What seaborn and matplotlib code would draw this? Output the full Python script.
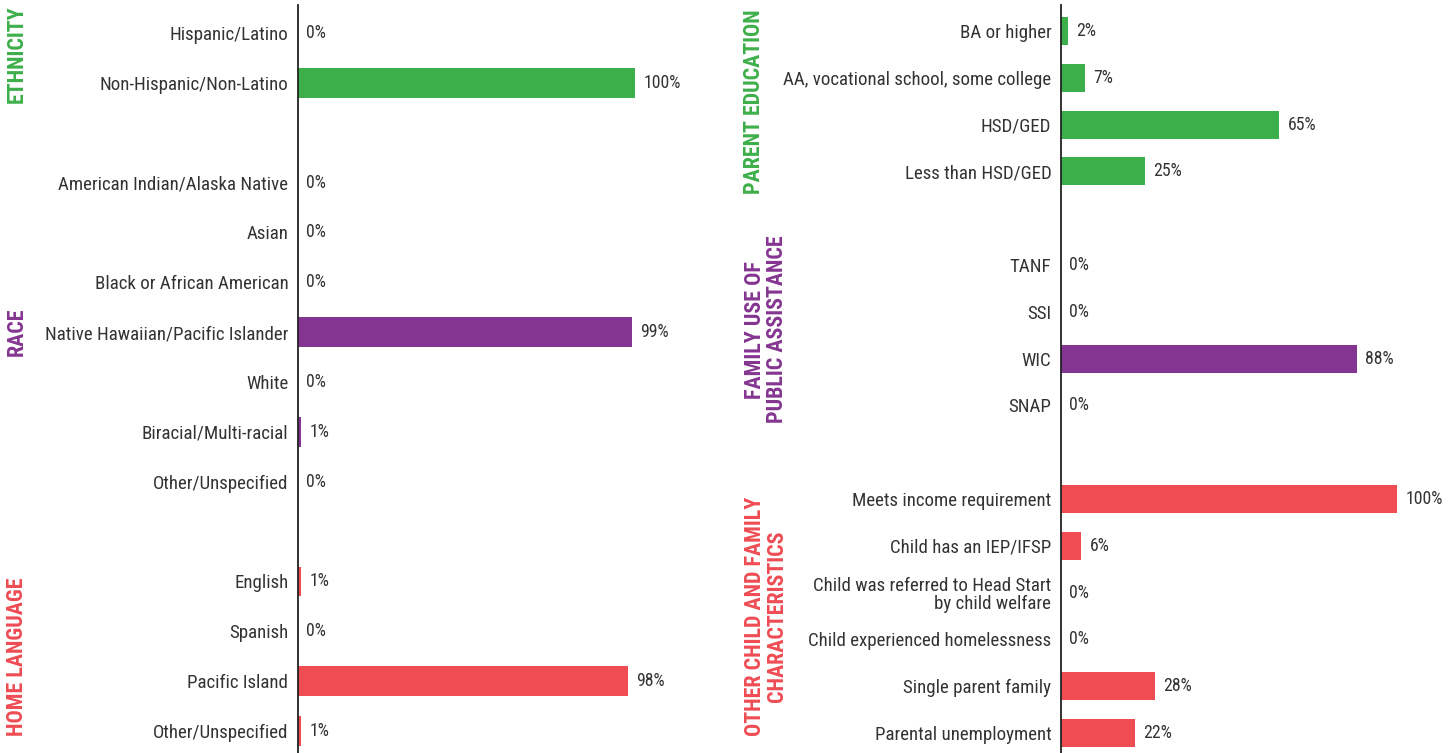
import pandas as pd
import seaborn as sns
import matplotlib.pyplot as plt
from matplotlib.transforms import blended_transform_factory

# Datos del panel izquierdo
left_groups = ["ETHNICITY", "RACE", "HOME LANGUAGE"]
ethnicity_labels = ["Hispanic/Latino", "Non-Hispanic/Non-Latino"]
ethnicity_values = [0, 100]
race_labels = ["American Indian/Alaska Native", "Asian", "Black or African American",
               "Native Hawaiian/Pacific Islander", "White", "Biracial/Multi-racial",
               "Other/Unspecified"]
race_values = [0, 0, 0, 99, 0, 1, 0]
language_labels = ["English", "Spanish", "Pacific Island", "Other/Unspecified"]
language_values = [1, 0, 98, 1]

# Datos del panel derecho
right_groups = ["PARENT EDUCATION", "FAMILY USE OF\nPUBLIC ASSISTANCE",
                "OTHER CHILD AND FAMILY\nCHARACTERISTICS"]
education_labels = ["BA or higher", "AA, vocational school, some college", "HSD/GED",
                    "Less than HSD/GED"]
education_values = [2, 7, 65, 25]
assistance_labels = ["TANF", "SSI", "WIC", "SNAP"]
assistance_values = [0, 0, 88, 0]
other_labels = ["Meets income requirement", "Child has an IEP/IFSP",
                "Child was referred to Head Start\nby child welfare",
                "Child experienced homelessness", "Single parent family",
                "Parental unemployment"]
other_values = [100, 6, 0, 0, 28, 22]

colors = ["#3daf4a", "#843591", "#ef4c54"]
text_color = "#333333"

plt.rcParams['font.family'] = ['Roboto Condensed', 'Liberation Sans Narrow', 'DejaVu Sans']
plt.rcParams['font.stretch'] = 'condensed'


def build_frame(groups, labels_list, values_list):
    # una fila vacía entre grupos
    rows = []
    pos = 0
    for g, labels, values in zip(groups, labels_list, values_list):
        for lab, val in zip(labels, values):
            rows.append({"group": g, "label": lab, "value": val, "pos": pos})
            pos += 1
        pos += 1
    return pd.DataFrame(rows)


left_df = build_frame(left_groups, [ethnicity_labels, race_labels, language_labels],
                      [ethnicity_values, race_values, language_values])
right_df = build_frame(right_groups, [education_labels, assistance_labels, other_labels],
                       [education_values, assistance_values, other_values])

W, H = 1455, 753
fig = plt.figure(figsize=(W / 100, H / 100), dpi=100)

ax_left = fig.add_axes([298 / W, 0, 337 * 1.15 / W, 1])
ax_right = fig.add_axes([1061 / W, 0, 336 * 1.15 / W, 1])

# (eje, datos, grupos, y de la primera fila en px, paso en px, x de los títulos, ajuste de y)
panels = [
    (ax_left, left_df, left_groups, 33, 49.86, [17, 17, 17], [-0.08, 0, 0]),
    (ax_right, right_df, right_groups, 31, 46.8, [754, 766, 766], [0, -0.12, 0]),
]

for ax, df, groups, top_px, step_px, title_x, title_dy in panels:
    sns.barplot(data=df, x="value", y="pos", hue="group", hue_order=groups,
                palette=colors, orient="h", native_scale=True, dodge=False,
                width=0.6, saturation=1, legend=False, ax=ax)
    for container in ax.containers:
        ax.bar_label(container, fmt="%d%%", padding=6, fontsize=12.8, color=text_color)

    ax.set_xlim(0, 115)
    ax.set_ylim((H - top_px) / step_px, -top_px / step_px)
    ax.set_yticks(df["pos"])
    ax.set_yticklabels(df["label"], fontsize=13.6, color=text_color, linespacing=1.0)
    ax.tick_params(axis="y", length=0, pad=7)
    ax.set_xticks([])
    ax.set_xlabel("")
    ax.set_ylabel("")
    for side in ["top", "right", "bottom"]:
        ax.spines[side].set_visible(False)
    ax.spines["left"].set_color("#222222")
    ax.spines["left"].set_linewidth(1.3)
    ax.spines["left"].set_bounds((H - top_px) / step_px, (5 - top_px) / step_px)

    # títulos de grupo verticales
    trans = blended_transform_factory(fig.transFigure, ax.transData)
    for g, c, tx, dy in zip(groups, colors, title_x, title_dy):
        center = df.loc[df["group"] == g, "pos"].mean() + dy
        ax.text(tx / W, center, g, transform=trans, rotation=90, ha="center",
                va="center", color=c, fontsize=15.8, fontweight="bold",
                linespacing=0.95, multialignment="center")

fig.savefig("out.png", dpi=100)
